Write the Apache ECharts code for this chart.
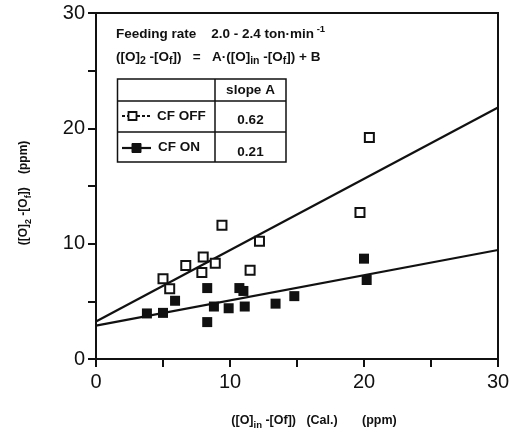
<!DOCTYPE html>
<html>
<head>
<meta charset="utf-8">
<script src="https://cdn.jsdelivr.net/npm/echarts@6/dist/echarts.min.js"></script>
<style>html,body{margin:0;padding:0;background:#fff}#c{width:520px;height:434px}</style>
</head>
<body>
<div id="c"></div>
<script>
// ---- data ----
const offX = [20.4, 9.4, 12.2, 19.7, 8.0, 6.7, 8.9, 7.9, 11.5, 5.0, 5.5];
const offY = [19.2, 11.6, 10.2, 12.7, 8.85, 8.1, 8.3, 7.5, 7.7, 6.95, 6.1];
const onX = [20.0, 20.2, 8.3, 10.7, 11.0, 5.9, 14.8, 13.4, 3.8, 5.0, 8.8, 9.9, 11.1, 8.3];
const onY = [8.7, 6.85, 6.15, 6.15, 5.9, 5.05, 5.45, 4.8, 3.95, 4.0, 4.55, 4.4, 4.55, 3.2];
const fitX = [0, 30];
const offFitY = [3.25, 21.8];
const onFitY = [2.9, 9.45];
const slopes = ['0.62', '0.21'];
const seriesNames = ['CF OFF', 'CF ON'];
const xTicks = [0, 10, 20, 30];

const FF = '"Liberation Sans", Arial, Helvetica, sans-serif';
const INK = '#111';
const zip = (a, b) => a.map((v, i) => [v, b[i]]);

function richSet(fs) {
  return {
    n: { fontSize: fs, fontFamily: FF, fontWeight: 'bold', fill: INK, lineHeight: fs + 6, verticalAlign: 'middle' },
    s: { fontSize: fs - 3, fontFamily: FF, fontWeight: 'bold', fill: INK, lineHeight: fs - 2, verticalAlign: 'bottom' },
    p: { fontSize: fs - 4, fontFamily: FF, fontWeight: 'bold', fill: INK, lineHeight: fs - 3, verticalAlign: 'top' }
  };
}
function txt(x, y, text, fs, align, extra) {
  return Object.assign({
    type: 'text', x: x, y: y, silent: true,
    style: {
      text: text, x: 0, y: 0, rich: richSet(fs),
      font: 'bold ' + fs + 'px ' + FF, fill: INK,
      align: align || 'left', textAlign: align || 'left',
      verticalAlign: 'middle', textVerticalAlign: 'middle'
    }
  }, extra || {});
}
function ln(x1, y1, x2, y2, w, dash) {
  return { type: 'line', silent: true, shape: { x1, y1, x2, y2 },
    style: { stroke: INK, lineWidth: w || 1.5, lineDash: dash || null } };
}

const graphics = [
  txt(116, 34, '{n|Feeding rate    2.0 - 2.4 ton·min}{p| -1}', 13.5),
  txt(116, 57, '{n|([O]}{s|2}{n| -[O}{s|f}{n|])   =   A·([O]}{s|in}{n| -[O}{s|f}{n|]) + B}', 13.5),
  // legend table
  { type: 'rect', silent: true, shape: { x: 117.5, y: 79, width: 168.5, height: 83 },
    style: { fill: '#fff', stroke: INK, lineWidth: 1.5 } },
  ln(215, 79, 215, 162),
  ln(117.5, 101, 286, 101),
  ln(117.5, 132, 286, 132),
  txt(250.5, 90, '{n|slope A}', 13.5, 'center'),
  txt(250.5, 120, '{n|' + slopes[0] + '}', 13.5, 'center'),
  txt(250.5, 152, '{n|' + slopes[1] + '}', 13.5, 'center'),
  ln(122, 116, 151, 116, 2, [3, 2]),
  { type: 'rect', silent: true, shape: { x: 128.5, y: 112, width: 8, height: 8 },
    style: { fill: '#fff', stroke: INK, lineWidth: 1.8 } },
  txt(157, 116, '{n|' + seriesNames[0] + '}', 13.5),
  ln(122, 148, 151, 148, 2.2),
  { type: 'rect', silent: true, shape: { x: 132, y: 143.5, width: 9, height: 9 },
    style: { fill: INK, stroke: INK, lineWidth: 1 } },
  txt(158, 147, '{n|' + seriesNames[1] + '}', 13.5),
  // axis titles
  txt(314, 421, '{n|([O]}{s|in}{n| -[Of])   (Cal.)       (ppm)}', 12.5, 'center'),
  txt(24, 193, '{n|([O]}{s|2}{n| -[O}{s|f}{n|])    (ppm)}', 12, 'center', { rotation: Math.PI / 2 })
];

const chart = echarts.init(document.getElementById('c'), null, { renderer: 'canvas' });
chart.setOption({
  animation: false,
  backgroundColor: '#fff',
  grid: { left: 96, right: 22, top: 13, bottom: 75, show: true, borderColor: INK, borderWidth: 2, backgroundColor: 'transparent' },
  xAxis: {
    type: 'value', min: 0, max: 30, interval: 10,
    axisLine: { onZero: false, lineStyle: { color: INK, width: 2 } },
    axisTick: { inside: false, length: 8, lineStyle: { color: INK, width: 2 } },
    minorTick: { show: true, splitNumber: 2, length: 8, lineStyle: { color: INK, width: 2 } },
    splitLine: { show: false },
    axisLabel: { fontSize: 20, color: INK, fontFamily: FF, margin: 13,
      formatter: v => (xTicks.indexOf(v) >= 0 ? String(v) : '') }
  },
  yAxis: {
    type: 'value', min: 0, max: 30, interval: 10,
    axisLine: { onZero: false, lineStyle: { color: INK, width: 2 } },
    axisTick: { inside: false, length: 8, lineStyle: { color: INK, width: 2 } },
    minorTick: { show: true, splitNumber: 2, length: 8, lineStyle: { color: INK, width: 2 } },
    splitLine: { show: false },
    axisLabel: { fontSize: 20, color: INK, fontFamily: FF, margin: 11 }
  },
  series: [
    { type: 'line', data: zip(fitX, offFitY), showSymbol: false, silent: true,
      lineStyle: { color: INK, width: 2.2 }, z: 2 },
    { type: 'line', data: zip(fitX, onFitY), showSymbol: false, silent: true,
      lineStyle: { color: INK, width: 2.2 }, z: 2 },
    { name: seriesNames[0], type: 'scatter', data: zip(offX, offY), symbol: 'rect', symbolSize: 9,
      itemStyle: { color: '#fff', borderColor: INK, borderWidth: 2, opacity: 1 }, z: 3 },
    { name: seriesNames[1], type: 'scatter', data: zip(onX, onY), symbol: 'rect', symbolSize: 10,
      itemStyle: { color: INK, borderColor: INK, borderWidth: 0, opacity: 1 }, z: 3 }
  ],
  graphic: graphics
});
</script>
</body>
</html>
